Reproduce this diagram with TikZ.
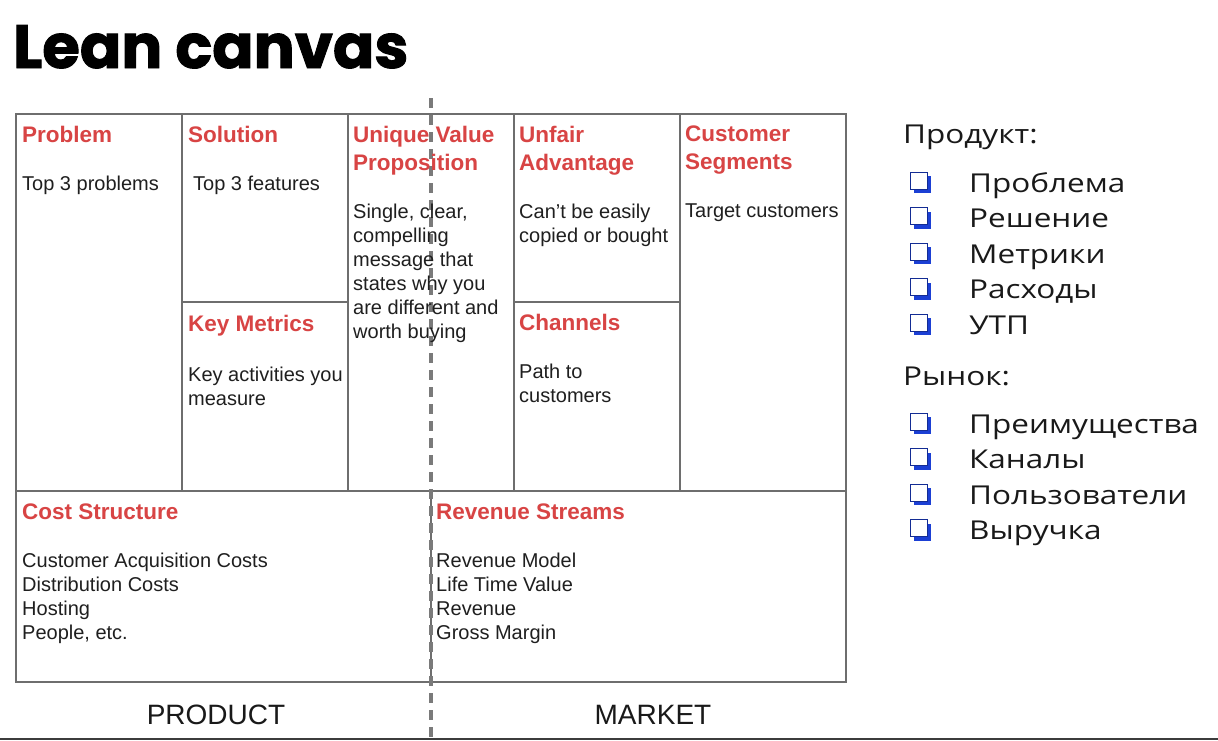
\documentclass[tikz,border=0pt]{standalone}
\usepackage{fontspec}
\setmainfont{Liberation Sans}
\newfontfamily\titlefont{Poppins}[FakeBold=1.6]
\newfontfamily\rufont{Open Sans}[FakeStretch=1.21]
\definecolor{gridgray}{HTML}{6E6E6E}
\definecolor{dashgray}{HTML}{7A7A7A}
\definecolor{headred}{HTML}{D84444}
\definecolor{boxblue}{HTML}{1B3FD4}
\definecolor{rulegray}{HTML}{3C3C3C}
\tikzset{
  gridline/.style={draw=gridgray, line width=2pt},
  head/.style={anchor=north west, inner sep=0pt, align=left, text=headred,
    font=\bfseries\fontsize{22.5}{28}\selectfont},
  body/.style={anchor=north west, inner sep=0pt, align=left, text=black!88,
    font=\fontsize{20}{23.9}\selectfont},
  sidetext/.style={anchor=base west, inner sep=0pt, text=black!90,
    font=\rufont\fontsize{26}{30}\selectfont},
  half/.style={anchor=base, inner sep=0pt, text=black!90,
    font=\fontsize{28}{32}\selectfont},
}
\newcommand{\checkbox}[2]{%
  \fill[boxblue] (#1+4,#2-12) rectangle (#1+21,#2+5);
  \filldraw[fill=white, draw=boxblue!70!black, line width=0.9pt] (#1,#2-16) rectangle (#1+17,#2+1);
}
\begin{document}
\begin{tikzpicture}[x=1pt, y=-1pt]
  \useasboundingbox (0,0) rectangle (1218,740);
  \fill[white] (0,0) rectangle (1218,740);

  % title
  \node[anchor=base west, inner sep=0pt, font=\titlefont\bfseries\fontsize{61}{64}\selectfont]
    (title) at (13,68) {Lean canvas};

  % canvas grid
  \draw[gridline] (16,114) rectangle (846,682);
  \draw[gridline] (16,491) -- (846,491);
  \foreach \x in {182,348,514,680} \draw[gridline] (\x,114) -- (\x,491);
  \draw[gridline] (182,302) -- (348,302);
  \draw[gridline] (514,302) -- (680,302);
  \draw[gridline] (431,491) -- (431,682);

  % product / market divider
  \draw[dashgray, line width=3.5pt, dash pattern=on 10pt off 7pt] (431,98) -- (431,740);

  % cell headings
  \node[head] (hprob) at (22,126) {Problem};
  \node[head] (hsol)  at (188,126) {Solution};
  \node[head] (huvp)  at (353,126) {Unique Value\\Proposition};
  \node[head] (hunf)  at (519,126) {Unfair\\Advantage};
  \node[head] (hcus)  at (685,126) {Customer\\Segments};
  \node[head] (hkey)  at (188,315) {Key Metrics};
  \node[head] (hchan) at (519,314) {Channels};
  \node[head] (hcost) at (22,504) {Cost Structure};
  \node[head] (hrev)  at (436,504) {Revenue Streams};

  % cell contents
  \node[body] (bprob) at (22,176) {Top 3 problems};
  \node[body] (bsol)  at (193,176) {Top 3 features};
  \node[body] (buvp)  at (353,204) {Single, clear,\\compelling\\message that\\states why you\\are different and\\worth buying};
  \node[body] (bunf)  at (519,204) {Can't be easily\\copied or bought};
  \node[body] (bcus)  at (685,204) {Target customers};
  \node[body] (bkey)  at (188,367) {Key activities you\\measure};
  \node[body] (bchan) at (519,364) {Path to\\customers};
  \node[body] (bcost) at (22,553) {Customer Acquisition Costs\\Distribution Costs\\Hosting\\People, etc.};
  \node[body] (brev)  at (436,553) {Revenue Model\\Life Time Value\\Revenue\\Gross Margin};

  % halves
  \node[half] (product) at (216,724) {PRODUCT};
  \node[half] (market)  at (653,724) {MARKET};

  % checklist
  \node[sidetext] (prod) at (903,143) {Продукт:};
  \foreach \t [count=\i from 0] in {Проблема,Решение,Метрики,Расходы,УТП} {
    \checkbox{910}{188+35.5*\i}
    \node[sidetext] (p\i) at (969,192+35.5*\i) {\t};
  }
  \node[sidetext] (mkt) at (903,385) {Рынок:};
  \foreach \t [count=\i from 0] in {Преимущества,Каналы,Пользователи,Выручка} {
    \checkbox{910}{429+35.5*\i}
    \node[sidetext] (m\i) at (969,433+35.5*\i) {\t};
  }

  % bottom rule
  \draw[rulegray, line width=2pt] (0,739) -- (1218,739);
\end{tikzpicture}
\end{document}
